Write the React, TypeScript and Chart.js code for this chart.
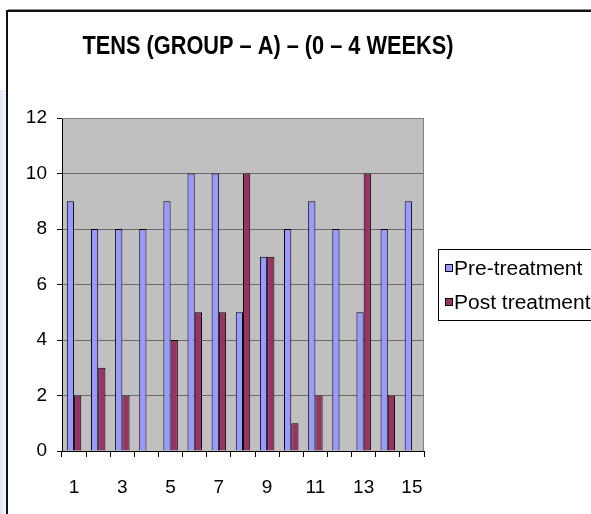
import React, { useEffect, useRef } from "react";
import { Chart, registerables } from "chart.js";

Chart.register(...registerables);

const categories = ["1", "2", "3", "4", "5", "6", "7", "8", "9", "10", "11", "12", "13", "14", "15"];
const preTreatment = [9, 8, 8, 8, 9, 10, 10, 5, 7, 8, 9, 8, 5, 8, 9];
const postTreatment = [2, 3, 2, 0, 4, 5, 5, 10, 7, 1, 2, 0, 10, 2, 0];
const seriesNames = ["Pre-treatment", "Post treatment"];
const seriesColors = ["#9999FF", "#993366"];
const titleText = "TENS (GROUP \u2013 A) \u2013 (0 \u2013 4 WEEKS)";

const W = 591;
const H = 514;

const decorPlugin = {
  id: "decor",
  beforeDraw(chart: any) {
    const ctx = chart.ctx;
    const a = chart.chartArea;
    ctx.save();
    ctx.fillStyle = "#ffffff";
    ctx.fillRect(0, 0, W, H);
    const g = ctx.createLinearGradient(0, 0, 6, 0);
    g.addColorStop(0, "#dfe6f6");
    g.addColorStop(1, "#f3f6fc");
    ctx.fillStyle = g;
    ctx.fillRect(0, 90, 6, H - 90);
    ctx.fillStyle = "#111111";
    ctx.fillRect(6, 10, 2, H - 10);
    ctx.fillRect(6, 10, W - 6, 2);
    ctx.fillStyle = "#888888";
    ctx.fillRect(8, 9, W - 8, 1);
    ctx.fillStyle = "#C0C0C0";
    ctx.fillRect(a.left, a.top, a.right - a.left, a.bottom - a.top);
    ctx.restore();
  },
  afterDatasetsDraw(chart: any) {
    const ctx = chart.ctx;
    const a = chart.chartArea;
    ctx.save();
    ctx.strokeStyle = "#808080";
    ctx.lineWidth = 1;
    ctx.beginPath();
    ctx.moveTo(a.left, a.top + 0.5);
    ctx.lineTo(a.right - 0.5, a.top + 0.5);
    ctx.lineTo(a.right - 0.5, a.bottom);
    ctx.stroke();
    ctx.restore();
  },
  afterDraw(chart: any) {
    const ctx = chart.ctx;
    ctx.save();
    // title (condensed bold)
    ctx.fillStyle = "#000000";
    ctx.font = "bold 25px 'Liberation Sans', Arial, sans-serif";
    ctx.textAlign = "center";
    ctx.textBaseline = "middle";
    ctx.save();
    ctx.translate(268, 47);
    ctx.scale(0.87, 1);
    ctx.fillText(titleText, 0, 0);
    ctx.restore();
    // legend
    const lx = 438, ly = 249, lw = 160, lh = 72;
    ctx.fillStyle = "#ffffff";
    ctx.fillRect(lx, ly, lw, lh);
    ctx.strokeStyle = "#000000";
    ctx.lineWidth = 1;
    ctx.strokeRect(lx + 0.5, ly + 0.5, lw, lh - 1);
    ctx.font = "20px 'Liberation Sans', Arial, sans-serif";
    ctx.textAlign = "left";
    ctx.textBaseline = "middle";
    const rows = [268, 302];
    for (let i = 0; i < seriesNames.length; i++) {
      const cy = rows[i];
      ctx.fillStyle = seriesColors[i];
      ctx.fillRect(lx + 7, cy - 4, 8, 8);
      ctx.strokeStyle = "#000000";
      ctx.strokeRect(lx + 7.5, cy - 3.5, 7, 7);
      ctx.fillStyle = "#000000";
      ctx.save();
      ctx.translate(lx + 16, cy + 1);
      ctx.scale(1.05, 1);
      ctx.fillText(seriesNames[i], 0, 0);
      ctx.restore();
    }
    ctx.restore();
  },
};

export default function App() {
  const ref = useRef<HTMLCanvasElement | null>(null);
  useEffect(() => {
    if (!ref.current) return;
    const chart = new Chart(ref.current, {
      type: "bar",
      data: {
        labels: categories,
        datasets: [
          {
            label: seriesNames[0],
            data: preTreatment,
            backgroundColor: seriesColors[0],
            borderColor: "#000000",
            borderWidth: 1,
          },
          {
            label: seriesNames[1],
            data: postTreatment,
            backgroundColor: seriesColors[1],
            borderColor: "#000000",
            borderWidth: 1,
          },
        ],
      },
      options: {
        animation: false,
        responsive: false,
        maintainAspectRatio: false,
        devicePixelRatio: 1,
        layout: { padding: { top: 118, right: 167, left: 0, bottom: 0 } },
        datasets: { bar: { categoryPercentage: 0.6, barPercentage: 1 } },
        plugins: { legend: { display: false }, title: { display: false }, tooltip: { enabled: false } },
        scales: {
          x: {
            offset: true,
            afterFit: (s: any) => {
              s.height = 63;
            },
            grid: {
              offset: true,
              drawOnChartArea: false,
              drawTicks: true,
              tickLength: 6,
              tickColor: "#000000",
              color: "#000000",
            },
            border: { color: "#000000", width: 1 },
            ticks: {
              autoSkip: false,
              maxRotation: 0,
              minRotation: 0,
              padding: 19,
              color: "#000000",
              font: { family: "'Liberation Sans', Arial, sans-serif", size: 19 },
              callback: (_v: any, i: number) => (i % 2 === 0 ? categories[i] : ""),
            },
          },
          y: {
            min: 0,
            max: 12,
            afterFit: (s: any) => {
              s.width = 62;
            },
            grid: {
              color: "#6a6a6a",
              tickColor: "#000000",
              tickLength: 5,
              drawTicks: true,
            },
            border: { color: "#000000", width: 1 },
            ticks: {
              stepSize: 2,
              padding: 10,
              color: "#000000",
              font: { family: "'Liberation Sans', Arial, sans-serif", size: 19 },
            },
          },
        },
      },
      plugins: [decorPlugin],
    });
    return () => chart.destroy();
  }, []);
  return (
    <div style={{ position: "fixed", left: 0, top: 0, width: W, height: H, background: "#fff" }}>
      <canvas ref={ref} width={W} height={H} style={{ display: "block", width: W, height: H }} />
    </div>
  );
}
